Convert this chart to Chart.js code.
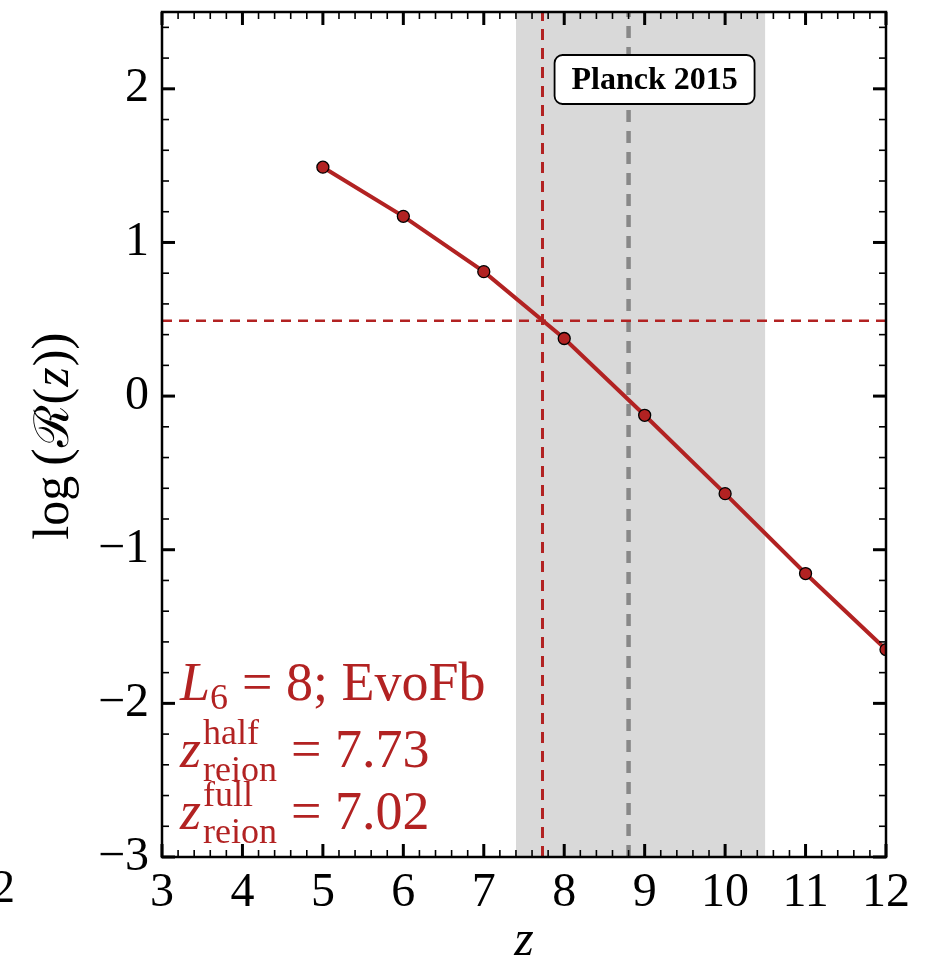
<!DOCTYPE html>
<html>
<head>
<meta charset="utf-8">
<script src="https://cdn.jsdelivr.net/npm/chart.js@4"></script>
<style>
  html, body { margin: 0; padding: 0; background: #fff; }
  #wrap { width: 925px; height: 966px; }
</style>
</head>
<body>
<div id="wrap"><canvas id="c" width="925" height="966"></canvas></div>
<script>
// data
const redshifts = [5, 6, 7, 8, 9, 10, 11, 12];
const logR = [1.49, 1.17, 0.81, 0.375, -0.125, -0.635, -1.155, -1.65];
const xTicks = [3, 4, 5, 6, 7, 8, 9, 10, 11, 12];
const yTicks = [-3, -2, -1, 0, 1, 2];
const xRange = [3, 12];
const yRange = [-3, 2.5];
const zHalf = 7.73;
const zFull = 7.02;
const halfLevel = 0.49;
const planckZ = 8.8;
const planckBand = [7.4, 10.5];

const RED = "#b22222";
const SERIF = "'Liberation Serif', 'DejaVu Serif', serif";

function minus(v) {
  return v < 0 ? "\u2212" + Math.abs(v) : String(v);
}

const decor = {
  id: "decor",
  afterDatasetsDraw(chart) {
    const ctx = chart.ctx;
    const x = chart.scales.x;
    // Planck 2015 box
    const cx = (x.getPixelForValue(planckZ) + 26);
    const bw = 200, bh = 49, by = 55;
    const bx = cx - bw / 2;
    ctx.save();
    ctx.beginPath();
    ctx.roundRect(bx, by, bw, bh, 8);
    ctx.fillStyle = "#fff";
    ctx.fill();
    ctx.lineWidth = 1.8;
    ctx.strokeStyle = "#000";
    ctx.stroke();
    ctx.fillStyle = "#000";
    ctx.font = "bold 32px " + SERIF;
    ctx.textAlign = "center";
    ctx.textBaseline = "middle";
    ctx.fillText("Planck 2015", cx, by + bh / 2 + 1);
    ctx.restore();

    // model annotations
    ctx.save();
    ctx.fillStyle = RED;
    ctx.textBaseline = "alphabetic";
    ctx.textAlign = "left";
    let px = 180;
    ctx.font = "italic 54px " + SERIF;
    ctx.fillText("L", px, 700);
    px += ctx.measureText("L").width;
    ctx.font = "36px " + SERIF;
    ctx.fillText("6", px, 709);
    px += ctx.measureText("6").width + 14;
    ctx.font = "54px " + SERIF;
    ctx.fillText("= 8; EvoFb", px, 700);

    const rows = [["half", zHalf, 767], ["full", zFull, 829]];
    rows.forEach(([sup, val, base]) => {
      let qx = 180;
      ctx.font = "italic 54px " + SERIF;
      ctx.fillText("z", qx, base);
      qx += ctx.measureText("z").width + 2;
      ctx.font = "36px " + SERIF;
      ctx.fillText(sup, qx, base - 23);
      ctx.fillText("reion", qx, base + 14);
      qx += ctx.measureText("reion").width + 14;
      ctx.font = "54px " + SERIF;
      ctx.fillText("= " + val.toFixed(2), qx, base);
    });
    ctx.restore();
  },
  afterDraw(chart) {
    const ctx = chart.ctx;
    const a = chart.chartArea;
    const x = chart.scales.x, y = chart.scales.y;
    ctx.save();
    ctx.strokeStyle = "#000";
    ctx.lineWidth = 2.5;
    ctx.strokeRect(a.left, a.top, a.right - a.left, a.bottom - a.top);
    function tick(px, py, dx, dy, w) {
      ctx.lineWidth = w;
      ctx.beginPath();
      ctx.moveTo(px, py);
      ctx.lineTo(px + dx, py + dy);
      ctx.stroke();
    }
    for (let v = xRange[0]; v <= xRange[1] + 1e-6; v += 0.2) {
      const major = Math.abs(v - Math.round(v)) < 1e-6;
      const p = x.getPixelForValue(v);
      const len = major ? 13 : 7;
      const w = major ? 3 : 1.6;
      tick(p, a.bottom, 0, -len, w);
      tick(p, a.top, 0, len, w);
    }
    for (let v = yRange[0]; v <= yRange[1] + 1e-6; v += 0.2) {
      const major = Math.abs(v - Math.round(v)) < 1e-6;
      const p = y.getPixelForValue(v);
      const len = major ? 13 : 7;
      const w = major ? 3 : 1.6;
      tick(a.left, p, len, 0, w);
      tick(a.right, p, -len, 0, w);
    }

    // axis titles
    ctx.fillStyle = "#000";
    ctx.font = "italic 50px " + SERIF;
    ctx.textAlign = "center";
    ctx.textBaseline = "alphabetic";
    ctx.fillText("z", (a.left + a.right) / 2, 955);

    ctx.save();
    ctx.translate(68, 436);
    ctx.rotate(-Math.PI / 2);
    const parts = [
      ["log", "50px " + SERIF, 10],
      ["(", "52px " + SERIF, 1],
      ["\u211B", "48px " + SERIF, 1],
      ["(", "50px " + SERIF, 1],
      ["z", "italic 50px " + SERIF, 1],
      [")", "50px " + SERIF, 0],
      [")", "52px " + SERIF, 0]
    ];
    let total = 0;
    parts.forEach(([t, f, g]) => { ctx.font = f; total += ctx.measureText(t).width + g; });
    let sx = -total / 2;
    ctx.textAlign = "left";
    parts.forEach(([t, f, g]) => {
      ctx.font = f;
      ctx.fillText(t, sx, 0);
      sx += ctx.measureText(t).width + g;
    });
    ctx.restore();

    // clipped tick label from the neighbouring panel
    ctx.font = "46px " + SERIF;
    ctx.textAlign = "left";
    ctx.fillText("2", -8, 902);
    ctx.restore();
  }
};

new Chart(document.getElementById("c"), {
  type: "line",
  data: {
    datasets: [
      {
        label: "model",
        data: redshifts.map((z, i) => ({ x: z, y: logR[i] })),
        borderColor: RED,
        borderWidth: 4,
        pointRadius: 6,
        pointBackgroundColor: RED,
        pointBorderColor: "#000",
        pointBorderWidth: 1.3,
        clip: 0,
        order: 0
      },
      {
        label: "half level",
        data: [{ x: xRange[0], y: halfLevel }, { x: xRange[1], y: halfLevel }],
        borderColor: RED,
        borderWidth: 2.5,
        borderDash: [10, 7],
        pointRadius: 0,
        order: 2
      },
      {
        label: "z half",
        data: [{ x: zHalf, y: yRange[0] }, { x: zHalf, y: yRange[1] }],
        borderColor: RED,
        borderWidth: 3,
        borderDash: [11, 8],
        pointRadius: 0,
        order: 2
      },
      {
        label: "Planck",
        data: [{ x: planckZ, y: yRange[0] }, { x: planckZ, y: yRange[1] }],
        borderColor: "#888888",
        borderWidth: 4.5,
        borderDash: [12, 9],
        pointRadius: 0,
        order: 3
      },
      {
        label: "Planck band",
        data: [{ x: planckBand[0], y: yRange[1] }, { x: planckBand[1], y: yRange[1] }],
        borderWidth: 0,
        borderColor: "rgba(0,0,0,0)",
        backgroundColor: "#d9d9d9",
        fill: "start",
        pointRadius: 0,
        order: 10
      }
    ]
  },
  options: {
    responsive: false,
    animation: false,
    layout: { autoPadding: false, padding: { top: 12, right: 39, left: 0, bottom: 0 } },
    plugins: { legend: { display: false }, tooltip: { enabled: false } },
    scales: {
      x: {
        type: "linear",
        min: xRange[0],
        max: xRange[1],
        afterBuildTicks: s => { s.ticks = xTicks.map(v => ({ value: v })); },
        afterFit: s => { s.height = 109; s.paddingLeft = 0; s.paddingRight = 0; },
        grid: { display: false },
        border: { display: false },
        ticks: {
          color: "#000",
          font: { family: SERIF, size: 48 },
          padding: 0,
          maxRotation: 0,
          autoSkip: false,
          callback: v => minus(v)
        }
      },
      y: {
        type: "linear",
        min: yRange[0],
        max: yRange[1],
        afterBuildTicks: s => { s.ticks = yTicks.map(v => ({ value: v })); },
        afterFit: s => { s.width = 162; s.paddingTop = 0; s.paddingBottom = 0; },
        grid: { display: false },
        border: { display: false },
        ticks: {
          color: "#000",
          font: { family: SERIF, size: 48 },
          padding: 5,
          autoSkip: false,
          callback: v => minus(v)
        }
      }
    }
  },
  plugins: [decor]
});
</script>
</body>
</html>
